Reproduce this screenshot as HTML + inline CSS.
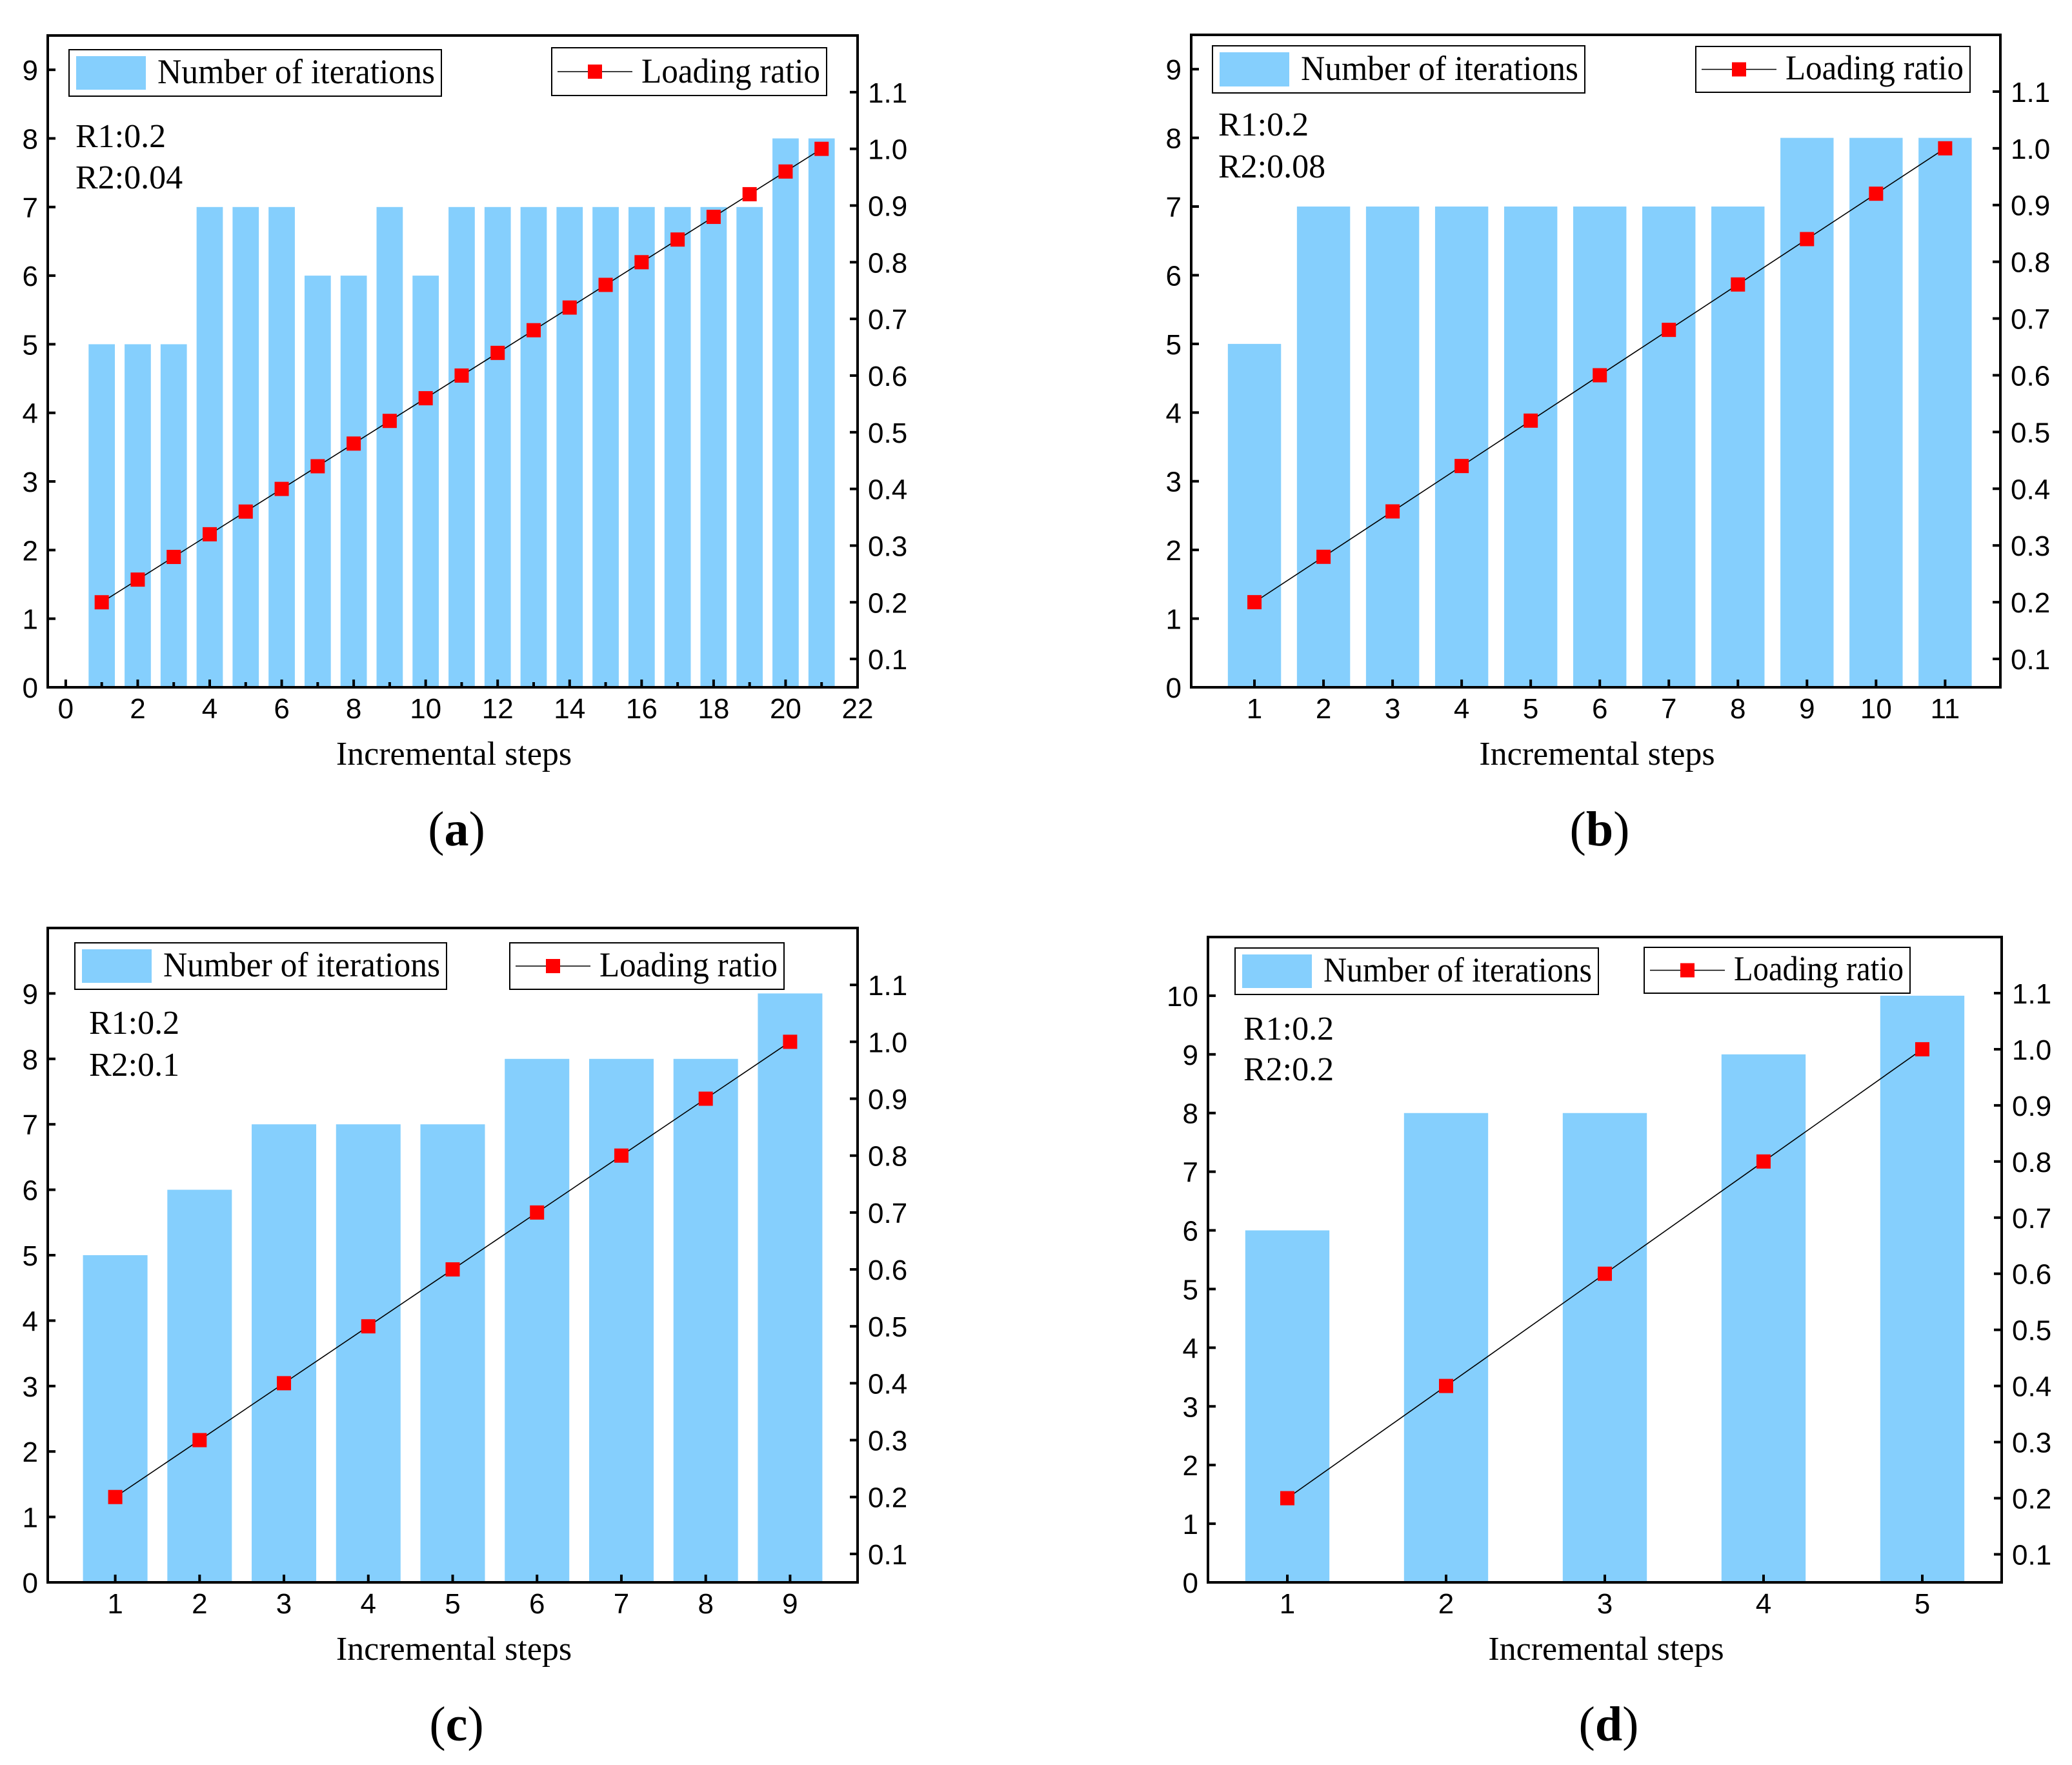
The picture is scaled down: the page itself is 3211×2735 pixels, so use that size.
<!DOCTYPE html>
<html><head><meta charset="utf-8"><title>Iterations and loading ratio</title>
<style>
html,body{margin:0;padding:0;background:#fff;}
svg{display:block;}
.tk{font-family:"Liberation Sans",Arial,sans-serif;font-size:44px;fill:#000;}
.tm{font-family:"Liberation Serif","Times New Roman",serif;fill:#000;}
</style></head>
<body>
<svg id="fig" xmlns="http://www.w3.org/2000/svg" width="3211" height="2735" viewBox="0 0 3211 2735"></svg>
<script>
// ---- data ----
const stepsA = [1,2,3,4,5,6,7,8,9,10,11,12,13,14,15,16,17,18,19,20,21];
const itersA = [5,5,5,7,7,7,6,6,7,6,7,7,7,7,7,7,7,7,7,8,8];
const ratioA = [0.2,0.24,0.28,0.32,0.36,0.4,0.44,0.48,0.52,0.56,0.6,0.64,0.68,0.72,0.76,0.8,0.84,0.88,0.92,0.96,1.0];
const stepsB = [1,2,3,4,5,6,7,8,9,10,11];
const itersB = [5,7,7,7,7,7,7,7,8,8,8];
const ratioB = [0.2,0.28,0.36,0.44,0.52,0.6,0.68,0.76,0.84,0.92,1.0];
const stepsC = [1,2,3,4,5,6,7,8,9];
const itersC = [5,6,7,7,7,8,8,8,9];
const ratioC = [0.2,0.3,0.4,0.5,0.6,0.7,0.8,0.9,1.0];
const stepsD = [1,2,3,4,5];
const itersD = [6,8,8,9,10];
const ratioD = [0.2,0.4,0.6,0.8,1.0];
const xTicksA = [0,2,4,6,8,10,12,14,16,18,20,22];
const xMinorA = [1,3,5,7,9,11,13,15,17,19,21];
const yTicks9 = [0,1,2,3,4,5,6,7,8,9];
const yTicks10 = [0,1,2,3,4,5,6,7,8,9,10];
const rTicks = [0.1,0.2,0.3,0.4,0.5,0.6,0.7,0.8,0.9,1.0,1.1];
const r1Labels = ["R1:0.2","R1:0.2","R1:0.2","R1:0.2"];
const r2Labels = ["R2:0.04","R2:0.08","R2:0.1","R2:0.2"];

const NS="http://www.w3.org/2000/svg";
const svg=document.getElementById('fig');
function mk(tag,attrs,parent,text){
  const e=document.createElementNS(NS,tag);
  for(const k in attrs)e.setAttribute(k,attrs[k]);
  if(text!==undefined)e.textContent=text;
  (parent||svg).appendChild(e);return e;
}
const panels=[
 {id:'a',L:74,R:1329,T:55,B:1065,xmin:-0.5,xmax:22,ymax:9.5,bw:0.73,steps:stepsA,iters:itersA,ratio:ratioA,xt:xTicksA,xm:xMinorA,yt:yTicks9,
  lb:[107,77,684,149],ll:[855,74,1281,148],rx:117,r1y:228,r2y:292},
 {id:'b',L:1846,R:3100,T:54,B:1065,xmin:0.084,xmax:11.8,ymax:9.5,bw:0.77,steps:stepsB,iters:itersB,ratio:ratioB,xt:stepsB,xm:[],yt:yTicks9,
  lb:[1879,71,2456,144],ll:[2628,72,3053,143],rx:1888,r1y:210,r2y:275},
 {id:'c',L:74,R:1329,T:1438,B:2452,xmin:0.2,xmax:9.8,ymax:10,bw:0.765,steps:stepsC,iters:itersC,ratio:ratioC,xt:stepsC,xm:[],yt:yTicks9,
  lb:[116,1461,692,1533],ll:[790,1461,1215,1533],rx:138,r1y:1602,r2y:1667},
 {id:'d',L:1872,R:3102,T:1452,B:2452,xmin:0.5,xmax:5.5,ymax:11,bw:0.53,steps:stepsD,iters:itersD,ratio:ratioD,xt:stepsD,xm:[],yt:yTicks10,
  lb:[1914,1469,2477,1541],ll:[2548,1468,2960,1539],rx:1927,r1y:1611,r2y:1674}
];
const RMIN=0.05,RMAX=1.2;
panels.forEach((p,pi)=>{
  const g=mk('g',{});
  
  
  const X=v=>p.L+(v-p.xmin)/(p.xmax-p.xmin)*(p.R-p.L);
  const Y=v=>p.B-v/p.ymax*(p.B-p.T);
  const YR=v=>p.B-(v-RMIN)/(RMAX-RMIN)*(p.B-p.T);
  p.steps.forEach((s,i)=>{
    const w=p.bw*(p.R-p.L)/(p.xmax-p.xmin);
    const b=mk('rect',{x:X(s)-w/2,y:Y(p.iters[i]),width:w,height:p.B-Y(p.iters[i]),fill:'#85CFFD'},g);
    
    
  });
  const pts=p.steps.map((s,i)=>X(s)+','+YR(p.ratio[i])).join(' ');
  const ln=mk('polyline',{points:pts,fill:'none',stroke:'#000','stroke-width':1.6},g);
  
  
  p.steps.forEach((s,i)=>{
    const m=mk('rect',{x:X(s)-11,y:YR(p.ratio[i])-11,width:22,height:22,fill:'#f00'},g);
    
    
  });
  const fr=mk('rect',{x:p.L,y:p.T,width:p.R-p.L,height:p.B-p.T,fill:'none',stroke:'#000','stroke-width':4},g);
  
  
  p.yt.forEach(v=>{
    mk('line',{x1:p.L,x2:p.L+12,y1:Y(v),y2:Y(v),stroke:'#000','stroke-width':4},g);
    const t=mk('text',{x:p.L-15,y:Y(v)+16,'text-anchor':'end',class:'tk'},g,String(v));
    
    
  });
  rTicks.forEach(v=>{
    mk('line',{x1:p.R-12,x2:p.R,y1:YR(v),y2:YR(v),stroke:'#000','stroke-width':4},g);
    const t=mk('text',{x:p.R+16,y:YR(v)+16,class:'tk'},g,v.toFixed(1));
    
    
  });
  p.xt.forEach(v=>{
    mk('line',{x1:X(v),x2:X(v),y1:p.B,y2:p.B-12,stroke:'#000','stroke-width':4},g);
    const t=mk('text',{x:X(v),y:p.B+48,'text-anchor':'middle',class:'tk'},g,String(v));
    
    
  });
  p.xm.forEach(v=>{
    mk('line',{x1:X(v),x2:X(v),y1:p.B,y2:p.B-8,stroke:'#000','stroke-width':4},g);
  });
  const lb=p.lb;
  const lg1=mk('g',{},g);
  
  
  mk('rect',{x:lb[0],y:lb[1],width:lb[2]-lb[0],height:lb[3]-lb[1],fill:'#fff',stroke:'#000','stroke-width':2},lg1);
  mk('rect',{x:lb[0]+11,y:lb[1]+10,width:108,height:lb[3]-lb[1]-20,fill:'#85CFFD'},lg1);
  mk('text',{x:lb[0]+137,y:lb[3]-20,class:'tm','font-size':54,textLength:lb[2]-lb[0]-147,lengthAdjust:'spacingAndGlyphs'},lg1,'Number of iterations');
  const ll=p.ll;
  const lg2=mk('g',{},g);
  
  
  mk('rect',{x:ll[0],y:ll[1],width:ll[2]-ll[0],height:ll[3]-ll[1],fill:'#fff',stroke:'#000','stroke-width':2},lg2);
  const cy=(ll[1]+ll[3])/2;
  mk('line',{x1:ll[0]+9,x2:ll[0]+125,y1:cy,y2:cy,stroke:'#000','stroke-width':1.6},lg2);
  mk('rect',{x:ll[0]+56,y:cy-11,width:22,height:22,fill:'#f00'},lg2);
  mk('text',{x:ll[0]+139,y:ll[3]-20,class:'tm','font-size':54,textLength:ll[2]-ll[0]-149,lengthAdjust:'spacingAndGlyphs'},lg2,'Loading ratio');
  const r1=mk('text',{x:p.rx,y:p.r1y,class:'tm','font-size':52},g,r1Labels[pi]);
  
  
  const r2=mk('text',{x:p.rx,y:p.r2y,class:'tm','font-size':52},g,r2Labels[pi]);
  
  
  const xt=mk('text',{x:(p.L+p.R)/2+2,y:p.B+120,'text-anchor':'middle',class:'tm','font-size':52},g,'Incremental steps');
  
  
  const pl=mk('text',{x:(p.L+p.R)/2+6,y:p.B+245,'text-anchor':'middle',class:'tm','font-size':76},g);
  
  
  mk('tspan',{},pl,'(');
  mk('tspan',{'font-weight':'bold'},pl,p.id);
  mk('tspan',{},pl,')');
});
</script>
</body></html>
